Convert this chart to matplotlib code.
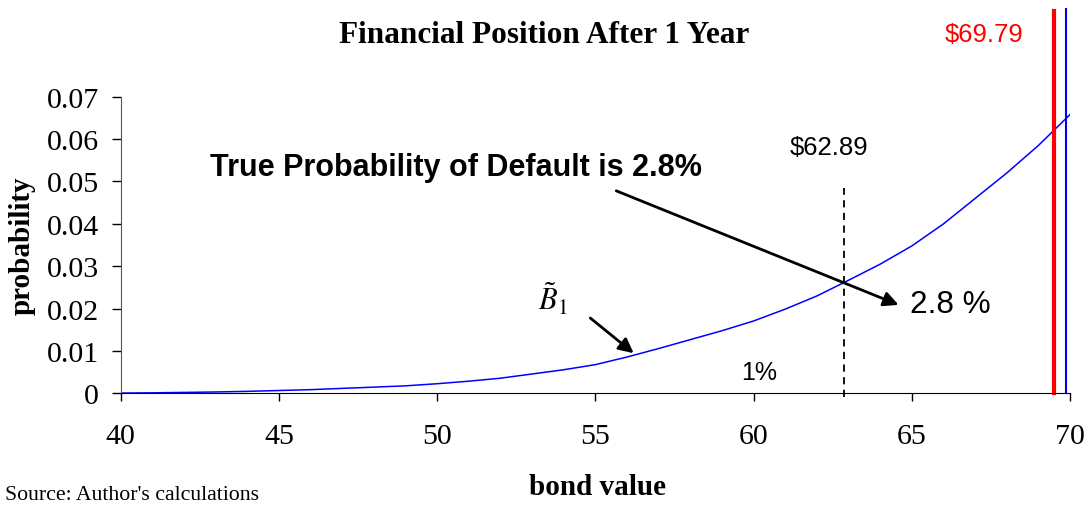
import matplotlib
matplotlib.use('Agg')
import matplotlib.pyplot as plt

# bond value grid and probability
bond_value = [40, 41, 42, 43, 44, 45, 46, 47, 48, 49, 50,
              51, 52, 53, 54, 55, 56, 57, 58, 59, 60,
              61, 62, 63, 64, 65, 66, 67, 68, 69, 70]
probability = [0.0001, 0.00015, 0.00025, 0.00035, 0.0005, 0.0007, 0.0009, 0.0012, 0.0015, 0.0018, 0.0023,
               0.0029, 0.0036, 0.0046, 0.0056, 0.0068, 0.0086, 0.0106, 0.0127, 0.0148, 0.0171,
               0.0199, 0.0230, 0.0267, 0.0305, 0.0348, 0.0400, 0.0460, 0.0520, 0.0585, 0.0658]

default_point = 62.85
red_level = 69.48
blue_level = 69.88
y_ticks = [0, 0.01, 0.02, 0.03, 0.04, 0.05, 0.06, 0.07]
y_labels = ['0', '0.01', '0.02', '0.03', '0.04', '0.05', '0.06', '0.07']
x_ticks = [40, 45, 50, 55, 60, 65, 70]

serif = 'Liberation Serif'
sans = 'Liberation Sans'
plt.rcParams['mathtext.fontset'] = 'stix'

fig = plt.figure(figsize=(10.92, 5.06), dpi=100)
ax = fig.add_axes([0.1105, 0.2204, 0.8694, 0.5865])

ax.plot(bond_value, probability, color='blue', lw=1.1)

# vertical markers, running above the plot area
ax.plot([red_level, red_level], [0, 0.0903], color='red', lw=3, clip_on=False)
ax.plot([blue_level, blue_level], [0, 0.0908], color='blue', lw=1.5, clip_on=False)
ax.plot([default_point, default_point], [-0.0008, 0.0485], color='black', lw=1.3,
        ls=(0, (4, 3)), clip_on=False)

ax.set_xlim(40, 70)
ax.set_ylim(0, 0.07)
ax.set_xticks(x_ticks)
ax.set_xticklabels([str(t) for t in x_ticks], fontfamily=serif, fontsize=21.5)
ax.set_yticks(y_ticks)
ax.set_yticklabels(y_labels, fontfamily=serif, fontsize=21.5)
ax.tick_params(axis='x', length=6, width=1, pad=15)
ax.tick_params(axis='y', length=6.5, width=1, pad=9)
for s in ['top', 'right']:
    ax.spines[s].set_visible(False)
ax.spines['left'].set_color('#555555')

ax.set_ylabel('probability', fontfamily=serif, fontweight='bold', fontsize=21)
ax.yaxis.label.set_va('center')
ax.yaxis.set_label_coords(-0.104, 0.5)

fig.text(0.4986, 0.93, 'Financial Position After 1 Year', ha='center', va='center',
         fontfamily=serif, fontweight='bold', fontsize=22.5)
fig.text(0.547, 0.037, 'bond value', ha='center', va='center',
         fontfamily=serif, fontweight='bold', fontsize=21)
fig.text(0.005, 0.021, "Source: Author's calculations", ha='left', va='center',
         fontfamily=serif, fontsize=15.7)

ax.text(67.27, 0.0848, '$69.79', color='red', ha='center', va='center',
        fontfamily=sans, fontsize=18.5, clip_on=False)
ax.text(62.39, 0.0581, '$62.89', ha='center', va='center', fontfamily=sans, fontsize=18.5)
ax.text(50.58, 0.0534, 'True Probability of Default is 2.8%', ha='center', va='center',
        fontfamily=sans, fontweight='bold', fontsize=22)
ax.text(64.95, 0.0211, '2.8 %', ha='left', va='center', fontfamily=sans, fontsize=22.7)
ax.text(60.18, 0.0051, '1%', ha='center', va='center', fontfamily=sans, fontsize=18)
ax.text(53.67, 0.0225, r'$\tilde{B}_1$', ha='center', va='center', fontsize=22)

arrow = dict(arrowstyle='-|>', color='black', lw=2, mutation_scale=22, shrinkA=0, shrinkB=0)
ax.annotate('', xy=(64.58, 0.0209), xytext=(55.66, 0.0478), arrowprops=arrow)
ax.annotate('', xy=(56.21, 0.0095), xytext=(54.84, 0.0178), arrowprops=arrow)

fig.savefig('out.png', dpi=100)
